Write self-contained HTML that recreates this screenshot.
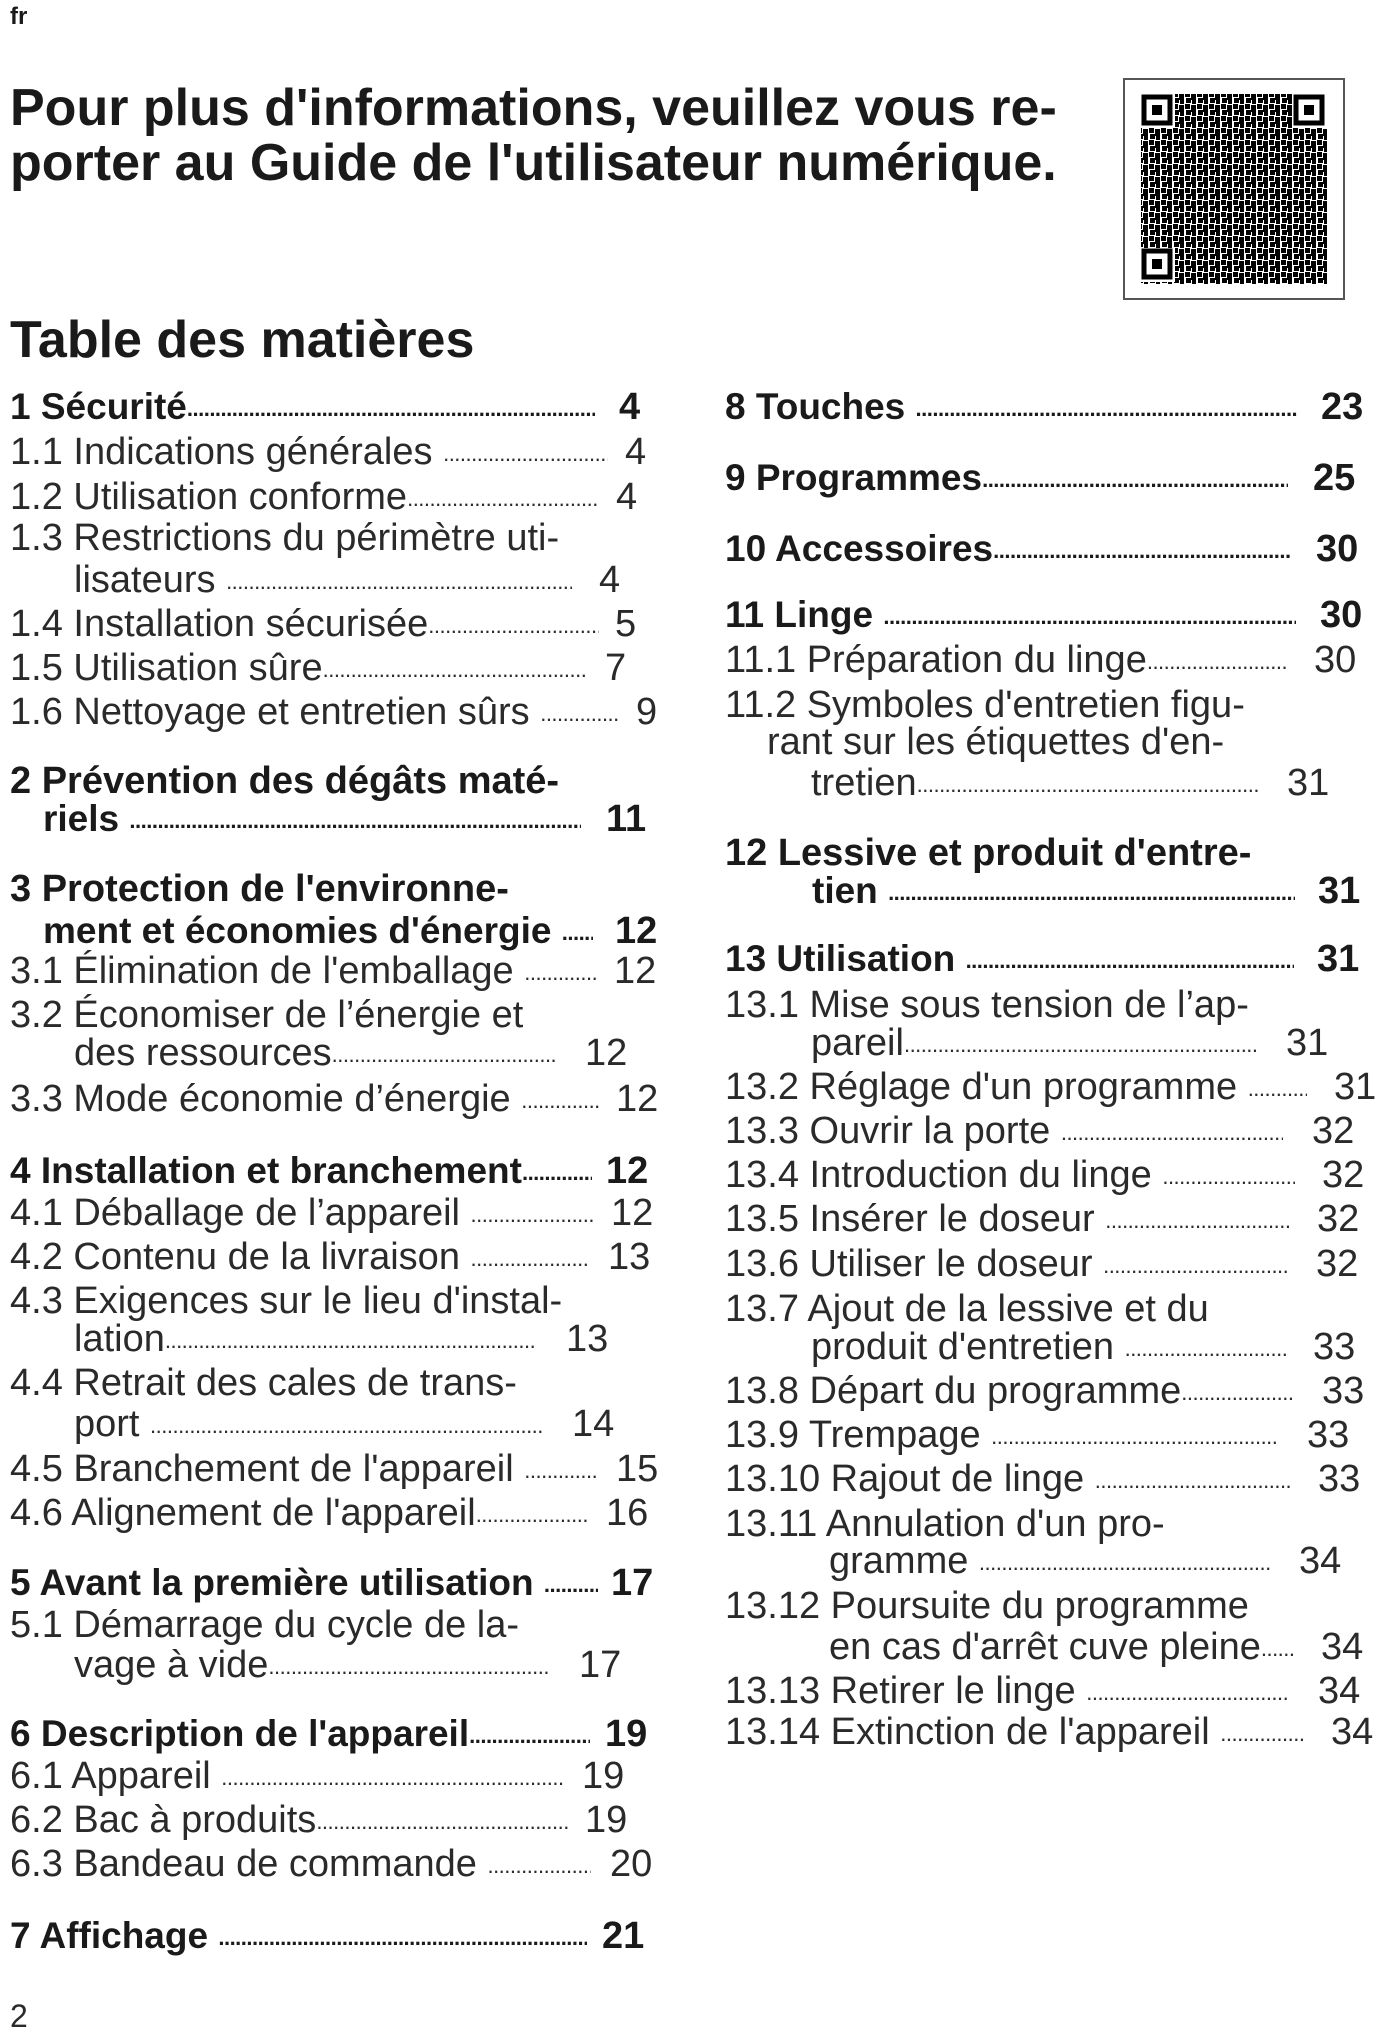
<!DOCTYPE html>
<html><head><meta charset="utf-8"><style>
html,body{margin:0;padding:0;background:#fff}
body{width:1377px;height:2034px;position:relative;overflow:hidden;font-family:"Liberation Sans",Arial,sans-serif;color:#1a1a1a}
.a{position:absolute;white-space:nowrap;line-height:44px}
.r{position:absolute;display:flex;white-space:nowrap;overflow:hidden;line-height:44px;font-size:38px;height:44px;color:#2a2a2a}
.r span{flex:none}
.r i{flex:1;overflow:hidden;font-style:normal;letter-spacing:-0.5px;font-size:22px;font-weight:normal;line-height:44px;align-self:flex-end;position:relative;top:2px}
.b{font-weight:bold;font-size:37px;color:#1a1a1a}
.r.b i{font-weight:bold}
.n{position:absolute;line-height:44px;font-size:38px;white-space:nowrap;color:#2a2a2a}
.t{position:absolute;font-size:38px;line-height:44px;white-space:nowrap;color:#2a2a2a}
.n.b,.t.b{color:#1a1a1a}
</style></head><body>
<div class="a" style="left:10px;top:0;font-size:24px;line-height:34px;font-weight:bold">fr</div>
<div class="a" style="left:10px;top:80px;font-size:52px;line-height:56px;font-weight:bold">Pour plus d'informations, veuillez vous re-</div>
<div class="a" style="left:10px;top:135px;font-size:52px;line-height:56px;font-weight:bold">porter au Guide de l'utilisateur numérique.</div>
<div style="position:absolute;left:1123px;top:78px;width:222px;height:222px;border:2px solid #555;box-sizing:border-box;background:#fff">
<svg width="218" height="218" viewBox="0 0 218 218" style="position:absolute;left:0;top:0">
<defs><pattern id="p" width="12" height="12" patternUnits="userSpaceOnUse">
<rect x="0" y="0" width="5" height="5" fill="#000"/><rect x="6" y="1" width="5" height="7" fill="#000"/><rect x="1" y="6" width="5" height="5" fill="#000"/><rect x="7" y="8" width="4" height="4" fill="#000"/></pattern></defs>
<rect x="16" y="14" width="186" height="190" fill="url(#p)"/>
<g fill="#fff"><rect x="16" y="14" width="34" height="34"/><rect x="168" y="14" width="34" height="34"/><rect x="16" y="168" width="34" height="34"/></g>
<g fill="none" stroke="#000" stroke-width="5"><rect x="19" y="17" width="26" height="26"/><rect x="171" y="17" width="26" height="26"/><rect x="19" y="171" width="26" height="26"/></g>
<g fill="#000"><rect x="27" y="25" width="10" height="10"/><rect x="179" y="25" width="10" height="10"/><rect x="27" y="179" width="10" height="10"/></g>
</svg></div>
<div class="a" style="left:10px;top:310px;font-size:52px;line-height:60px;font-weight:bold">Table des matières</div>

<!-- left column -->
<div class="r b" style="top:385px;left:10px;width:585px"><span>1 Sécurité</span><i>........................................................................................................................................................</i></div><div class="n b" style="top:385px;left:619px">4</div>
<div class="r" style="top:430px;left:10px;width:598px"><span>1.1 Indications générales&nbsp;</span><i>........................................................................................................................................................</i></div><div class="n" style="top:430px;left:625px">4</div>
<div class="r" style="top:475px;left:10px;width:589px"><span>1.2 Utilisation conforme</span><i>........................................................................................................................................................</i></div><div class="n" style="top:475px;left:616px">4</div>
<div class="t" style="top:516px;left:10px">1.3 Restrictions du périmètre uti-</div>
<div class="r" style="top:558px;left:74px;width:498px"><span>lisateurs&nbsp;</span><i>........................................................................................................................................................</i></div><div class="n" style="top:558px;left:599px">4</div>
<div class="r" style="top:602px;left:10px;width:589px"><span>1.4 Installation sécurisée</span><i>........................................................................................................................................................</i></div><div class="n" style="top:602px;left:615px">5</div>
<div class="r" style="top:646px;left:10px;width:577px"><span>1.5 Utilisation sûre</span><i>........................................................................................................................................................</i></div><div class="n" style="top:646px;left:605px">7</div>
<div class="r" style="top:690px;left:10px;width:610px"><span>1.6 Nettoyage et entretien sûrs&nbsp;</span><i>........................................................................................................................................................</i></div><div class="n" style="top:690px;left:636px">9</div>

<div class="t b" style="top:759px;left:10px">2 Prévention des dégâts maté-</div>
<div class="r b" style="top:797px;left:43px;width:538px"><span>riels&nbsp;</span><i>........................................................................................................................................................</i></div><div class="n b" style="top:797px;left:606px">11</div>

<div class="t b" style="top:867px;left:10px">3 Protection de l'environne-</div>
<div class="r b" style="top:909px;left:43px;width:550px"><span>ment et économies d'énergie&nbsp;</span><i>........................................................................................................................................................</i></div><div class="n b" style="top:909px;left:615px">12</div>
<div class="r" style="top:949px;left:10px;width:586px"><span>3.1 Élimination de l'emballage&nbsp;</span><i>........................................................................................................................................................</i></div><div class="n" style="top:949px;left:614px">12</div>
<div class="t" style="top:993px;left:10px">3.2 Économiser de l’énergie et</div>
<div class="r" style="top:1031px;left:74px;width:484px"><span>des ressources</span><i>........................................................................................................................................................</i></div><div class="n" style="top:1031px;left:585px">12</div>
<div class="r" style="top:1077px;left:10px;width:589px"><span>3.3 Mode économie d’énergie&nbsp;</span><i>........................................................................................................................................................</i></div><div class="n" style="top:1077px;left:616px">12</div>

<div class="r b" style="top:1149px;left:10px;width:582px"><span>4 Installation et branchement</span><i>........................................................................................................................................................</i></div><div class="n b" style="top:1149px;left:606px">12</div>
<div class="r" style="top:1191px;left:10px;width:584px"><span>4.1 Déballage de l’appareil&nbsp;</span><i>........................................................................................................................................................</i></div><div class="n" style="top:1191px;left:611px">12</div>
<div class="r" style="top:1235px;left:10px;width:580px"><span>4.2 Contenu de la livraison&nbsp;</span><i>........................................................................................................................................................</i></div><div class="n" style="top:1235px;left:608px">13</div>
<div class="t" style="top:1279px;left:10px">4.3 Exigences sur le lieu d'instal-</div>
<div class="r" style="top:1317px;left:74px;width:462px"><span>lation</span><i>........................................................................................................................................................</i></div><div class="n" style="top:1317px;left:566px">13</div>
<div class="t" style="top:1361px;left:10px">4.4 Retrait des cales de trans-</div>
<div class="r" style="top:1402px;left:74px;width:468px"><span>port&nbsp;</span><i>........................................................................................................................................................</i></div><div class="n" style="top:1402px;left:572px">14</div>
<div class="r" style="top:1447px;left:10px;width:589px"><span>4.5 Branchement de l'appareil&nbsp;</span><i>........................................................................................................................................................</i></div><div class="n" style="top:1447px;left:616px">15</div>
<div class="r" style="top:1491px;left:10px;width:579px"><span>4.6 Alignement de l'appareil</span><i>........................................................................................................................................................</i></div><div class="n" style="top:1491px;left:606px">16</div>

<div class="r b" style="top:1561px;left:10px;width:588px"><span>5 Avant la première utilisation&nbsp;</span><i>........................................................................................................................................................</i></div><div class="n b" style="top:1561px;left:611px">17</div>
<div class="t" style="top:1603px;left:10px">5.1 Démarrage du cycle de la-</div>
<div class="r" style="top:1643px;left:74px;width:475px"><span>vage à vide</span><i>........................................................................................................................................................</i></div><div class="n" style="top:1643px;left:579px">17</div>

<div class="r b" style="top:1712px;left:10px;width:580px"><span>6 Description de l'appareil</span><i>........................................................................................................................................................</i></div><div class="n b" style="top:1712px;left:605px">19</div>
<div class="r" style="top:1754px;left:10px;width:555px"><span>6.1 Appareil&nbsp;</span><i>........................................................................................................................................................</i></div><div class="n" style="top:1754px;left:582px">19</div>
<div class="r" style="top:1798px;left:10px;width:558px"><span>6.2 Bac à produits</span><i>........................................................................................................................................................</i></div><div class="n" style="top:1798px;left:585px">19</div>
<div class="r" style="top:1842px;left:10px;width:581px"><span>6.3 Bandeau de commande&nbsp;</span><i>........................................................................................................................................................</i></div><div class="n" style="top:1842px;left:610px">20</div>

<div class="r b" style="top:1914px;left:10px;width:577px"><span>7 Affichage&nbsp;</span><i>........................................................................................................................................................</i></div><div class="n b" style="top:1914px;left:602px">21</div>

<div class="a" style="left:10px;top:1994px;font-size:32px;color:#2a2a2a">2</div>

<!-- right column -->
<div class="r b" style="top:385px;left:725px;width:572px"><span>8 Touches&nbsp;</span><i>........................................................................................................................................................</i></div><div class="n b" style="top:385px;left:1321px">23</div>
<div class="r b" style="top:456px;left:725px;width:563px"><span>9 Programmes</span><i>........................................................................................................................................................</i></div><div class="n b" style="top:456px;left:1313px">25</div>
<div class="r b" style="top:527px;left:725px;width:567px"><span>10 Accessoires</span><i>........................................................................................................................................................</i></div><div class="n b" style="top:527px;left:1316px">30</div>
<div class="r b" style="top:593px;left:725px;width:571px"><span>11 Linge&nbsp;</span><i>........................................................................................................................................................</i></div><div class="n b" style="top:593px;left:1320px">30</div>
<div class="r" style="top:638px;left:725px;width:562px"><span>11.1 Préparation du linge</span><i>........................................................................................................................................................</i></div><div class="n" style="top:638px;left:1314px">30</div>
<div class="t" style="top:683px;left:725px">11.2 Symboles d'entretien figu-</div>
<div class="t" style="top:720px;left:767px">rant sur les étiquettes d'en-</div>
<div class="r" style="top:761px;left:811px;width:447px"><span>tretien</span><i>........................................................................................................................................................</i></div><div class="n" style="top:761px;left:1287px">31</div>

<div class="t b" style="top:831px;left:725px">12 Lessive et produit d'entre-</div>
<div class="r b" style="top:869px;left:812px;width:483px"><span>tien&nbsp;</span><i>........................................................................................................................................................</i></div><div class="n b" style="top:869px;left:1318px">31</div>

<div class="r b" style="top:937px;left:725px;width:569px"><span>13 Utilisation&nbsp;</span><i>........................................................................................................................................................</i></div><div class="n b" style="top:937px;left:1317px">31</div>
<div class="t" style="top:983px;left:725px">13.1 Mise sous tension de l’ap-</div>
<div class="r" style="top:1021px;left:811px;width:446px"><span>pareil</span><i>........................................................................................................................................................</i></div><div class="n" style="top:1021px;left:1286px">31</div>
<div class="r" style="top:1065px;left:725px;width:582px"><span>13.2 Réglage d'un programme&nbsp;</span><i>........................................................................................................................................................</i></div><div class="n" style="top:1065px;left:1334px">31</div>
<div class="r" style="top:1109px;left:725px;width:558px"><span>13.3 Ouvrir la porte&nbsp;</span><i>........................................................................................................................................................</i></div><div class="n" style="top:1109px;left:1312px">32</div>
<div class="r" style="top:1153px;left:725px;width:570px"><span>13.4 Introduction du linge&nbsp;</span><i>........................................................................................................................................................</i></div><div class="n" style="top:1153px;left:1322px">32</div>
<div class="r" style="top:1197px;left:725px;width:565px"><span>13.5 Insérer le doseur&nbsp;</span><i>........................................................................................................................................................</i></div><div class="n" style="top:1197px;left:1317px">32</div>
<div class="r" style="top:1242px;left:725px;width:563px"><span>13.6 Utiliser le doseur&nbsp;</span><i>........................................................................................................................................................</i></div><div class="n" style="top:1242px;left:1316px">32</div>
<div class="t" style="top:1287px;left:725px">13.7 Ajout de la lessive et du</div>
<div class="r" style="top:1325px;left:811px;width:475px"><span>produit d'entretien&nbsp;</span><i>........................................................................................................................................................</i></div><div class="n" style="top:1325px;left:1313px">33</div>
<div class="r" style="top:1369px;left:725px;width:570px"><span>13.8 Départ du programme</span><i>........................................................................................................................................................</i></div><div class="n" style="top:1369px;left:1322px">33</div>
<div class="r" style="top:1413px;left:725px;width:553px"><span>13.9 Trempage&nbsp;</span><i>........................................................................................................................................................</i></div><div class="n" style="top:1413px;left:1307px">33</div>
<div class="r" style="top:1457px;left:725px;width:565px"><span>13.10 Rajout de linge&nbsp;</span><i>........................................................................................................................................................</i></div><div class="n" style="top:1457px;left:1318px">33</div>
<div class="t" style="top:1502px;left:725px">13.11 Annulation d'un pro-</div>
<div class="r" style="top:1539px;left:829px;width:441px"><span>gramme&nbsp;</span><i>........................................................................................................................................................</i></div><div class="n" style="top:1539px;left:1299px">34</div>
<div class="t" style="top:1584px;left:725px">13.12 Poursuite du programme</div>
<div class="r" style="top:1625px;left:829px;width:466px"><span>en cas d'arrêt cuve pleine</span><i>........................................................................................................................................................</i></div><div class="n" style="top:1625px;left:1321px">34</div>
<div class="r" style="top:1669px;left:725px;width:565px"><span>13.13 Retirer le linge&nbsp;</span><i>........................................................................................................................................................</i></div><div class="n" style="top:1669px;left:1318px">34</div>
<div class="r" style="top:1710px;left:725px;width:579px"><span>13.14 Extinction de l'appareil&nbsp;</span><i>........................................................................................................................................................</i></div><div class="n" style="top:1710px;left:1331px">34</div>
</body></html>
